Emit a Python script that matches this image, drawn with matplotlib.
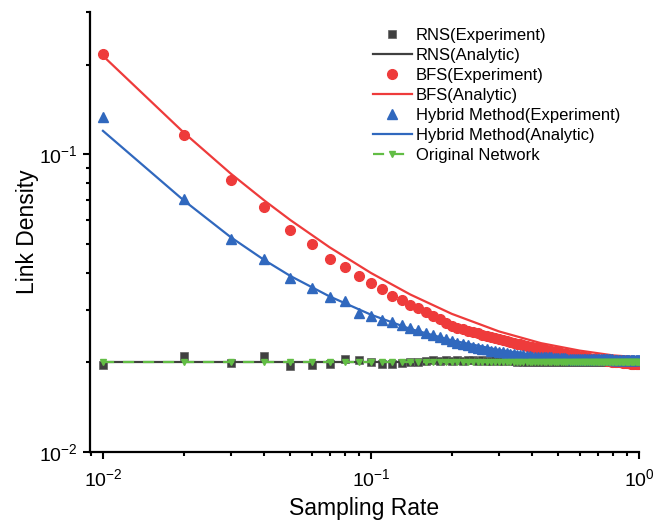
import matplotlib
matplotlib.use("Agg")
import matplotlib.pyplot as plt
import numpy as np

plt.rcParams['font.family'] = ['Liberation Sans', 'DejaVu Sans']
plt.rcParams['mathtext.fontset'] = 'custom'
plt.rcParams['mathtext.rm'] = 'Liberation Sans'

# sampling rates of the experiments: 0.01 .. 1.00
rates = [round(0.01 * i, 2) for i in range(1, 101)]

rns_exp = [
    0.0196, 0.0210, 0.0199, 0.0210, 0.0195, 0.0196, 0.0198, 0.0206, 0.0204, 0.0201,
    0.0197, 0.0198, 0.0199, 0.0201, 0.0201, 0.0202, 0.0203, 0.0202, 0.0203, 0.0202,
    0.0203, 0.0202, 0.0203, 0.0203, 0.0202, 0.0203, 0.0202, 0.0202, 0.0203, 0.0202,
    0.0202, 0.0203, 0.0202, 0.0202, 0.0201, 0.0202, 0.0201, 0.0201, 0.0202, 0.0201,
    0.0201, 0.0200, 0.0201, 0.0201, 0.0200, 0.0201, 0.0200, 0.0200, 0.0201, 0.0200,
    0.0200, 0.0200, 0.0201, 0.0200, 0.0200, 0.0200, 0.0200, 0.0200, 0.0200, 0.0200,
    0.0200, 0.0200, 0.0200, 0.0200, 0.0200, 0.0200, 0.0200, 0.0200, 0.0200, 0.0200,
    0.0200, 0.0200, 0.0200, 0.0200, 0.0200, 0.0200, 0.0200, 0.0200, 0.0200, 0.0200,
    0.0200, 0.0200, 0.0200, 0.0200, 0.0200, 0.0200, 0.0200, 0.0200, 0.0200, 0.0200,
    0.0200, 0.0200, 0.0200, 0.0200, 0.0200, 0.0200, 0.0200, 0.0200, 0.0200, 0.0200,
]

bfs_exp = [
    0.217, 0.116, 0.0819, 0.0667, 0.0556, 0.0501, 0.0446, 0.0418, 0.0389, 0.0370,
    0.0353, 0.0334, 0.0324, 0.0312, 0.0305, 0.0295, 0.0287, 0.0280, 0.0271, 0.0264,
    0.0261, 0.0258, 0.0255, 0.0252, 0.0250, 0.0247, 0.0245, 0.0243, 0.0241, 0.0239,
    0.0237, 0.0236, 0.0234, 0.0233, 0.0231, 0.0230, 0.0229, 0.0227, 0.0226, 0.0225,
    0.0224, 0.0223, 0.0222, 0.0221, 0.0220, 0.0219, 0.0218, 0.0217, 0.0217, 0.0216,
    0.0215, 0.0214, 0.0214, 0.0213, 0.0212, 0.0212, 0.0211, 0.0210, 0.0210, 0.0209,
    0.0209, 0.0208, 0.0208, 0.0207, 0.0207, 0.0206, 0.0206, 0.0205, 0.0205, 0.0204,
    0.0204, 0.0204, 0.0203, 0.0203, 0.0203, 0.0202, 0.0202, 0.0202, 0.0201, 0.0201,
    0.0201, 0.0201, 0.0200, 0.0200, 0.0200, 0.0200, 0.0199, 0.0199, 0.0199, 0.0199,
    0.0199, 0.0199, 0.0198, 0.0198, 0.0198, 0.0198, 0.0198, 0.0198, 0.0197, 0.0197,
]

hybrid_exp = [
    0.133, 0.0706, 0.0520, 0.0443, 0.0385, 0.0356, 0.0332, 0.0321, 0.0294, 0.0286,
    0.0278, 0.0273, 0.0266, 0.0261, 0.0256, 0.0251, 0.0247, 0.0243, 0.0239, 0.0236,
    0.0233, 0.0231, 0.0228, 0.0226, 0.0224, 0.0222, 0.0221, 0.0219, 0.0218, 0.0217,
    0.0216, 0.0215, 0.0214, 0.0213, 0.0212, 0.0212, 0.0211, 0.0210, 0.0210, 0.0209,
    0.0209, 0.0209, 0.0209, 0.0208, 0.0208, 0.0208, 0.0208, 0.0207, 0.0207, 0.0207,
    0.0207, 0.0207, 0.0207, 0.0206, 0.0206, 0.0206, 0.0206, 0.0206, 0.0205, 0.0205,
    0.0205, 0.0205, 0.0205, 0.0205, 0.0205, 0.0205, 0.0205, 0.0205, 0.0205, 0.0205,
    0.0205, 0.0205, 0.0205, 0.0205, 0.0205, 0.0205, 0.0205, 0.0205, 0.0205, 0.0204,
    0.0204, 0.0204, 0.0204, 0.0204, 0.0204, 0.0204, 0.0204, 0.0204, 0.0204, 0.0204,
    0.0204, 0.0204, 0.0204, 0.0204, 0.0204, 0.0204, 0.0204, 0.0204, 0.0204, 0.0204,
]

original = [0.02] * 100

# analytic curves, read at a set of sampling rates
ana_rates = [0.01, 0.02, 0.03, 0.04, 0.05, 0.07, 0.1, 0.14, 0.2, 0.3, 0.43, 0.6, 0.8, 1.0]
rns_ana = [0.02] * len(ana_rates)
bfs_ana = [0.214, 0.1183, 0.0860, 0.0699, 0.0601, 0.0487, 0.0399, 0.0338, 0.0291,
           0.0254, 0.0232, 0.0219, 0.0211, 0.0208]
hybrid_ana = [0.1198, 0.0700, 0.0526, 0.0441, 0.0390, 0.0333, 0.0289, 0.0259, 0.0237,
              0.0220, 0.0210, 0.0206, 0.0203, 0.0202]

gray = '#404040'
red = '#ee3b3b'
blue = '#3068be'
green = '#62bd45'

fig = plt.figure(figsize=(6.61, 5.28), dpi=100)
ax = fig.add_axes([0.136, 0.144, 0.831, 0.833])

ax.plot(rates, rns_exp, 's', color=gray, ms=6, mec='#606060', mew=0.5,
        label='RNS(Experiment)')
ax.plot(ana_rates, rns_ana, '-', color=gray, lw=1.6, label='RNS(Analytic)')
ax.plot(rates, bfs_exp, 'o', color=red, ms=7, mec=red, label='BFS(Experiment)')
ax.plot(ana_rates, bfs_ana, '-', color=red, lw=1.6, label='BFS(Analytic)')
ax.plot(rates, hybrid_exp, '^', color=blue, ms=7.5, mec=blue, label='Hybrid Method(Experiment)')
ax.plot(ana_rates, hybrid_ana, '-', color=blue, lw=1.6, label='Hybrid Method(Analytic)')
ax.plot(rates, original, '--v', color=green, ms=4.5, lw=1.6, dashes=(5, 4),
        label='Original Network')

ax.set_xscale('log')
ax.set_yscale('log')
ax.set_xlim(0.00894, 1.0)
ax.set_ylim(0.01, 0.30)

ax.spines['top'].set_visible(False)
ax.spines['right'].set_visible(False)
for s in ('left', 'bottom'):
    ax.spines[s].set_linewidth(1.6)
ax.tick_params(which='major', direction='out', length=5, width=1.5, labelsize=14, pad=4)
ax.tick_params(axis='x', which='major', pad=7)
ax.tick_params(which='minor', direction='out', length=3, width=1.5)
ax.yaxis.set_minor_formatter(matplotlib.ticker.NullFormatter())
ax.xaxis.set_minor_formatter(matplotlib.ticker.NullFormatter())

ax.set_xlabel('Sampling Rate', fontsize=16.5, labelpad=5)
ax.set_ylabel('Link Density', fontsize=16.5, labelpad=0)

ax.legend(loc='upper left', bbox_to_anchor=(0.546, 0.969), bbox_transform=fig.transFigure,
          frameon=False, fontsize=12, numpoints=1, handlelength=2.35,
          handletextpad=0.25, labelspacing=0.3, borderpad=0.2)

fig.savefig('out.png', dpi=100)
